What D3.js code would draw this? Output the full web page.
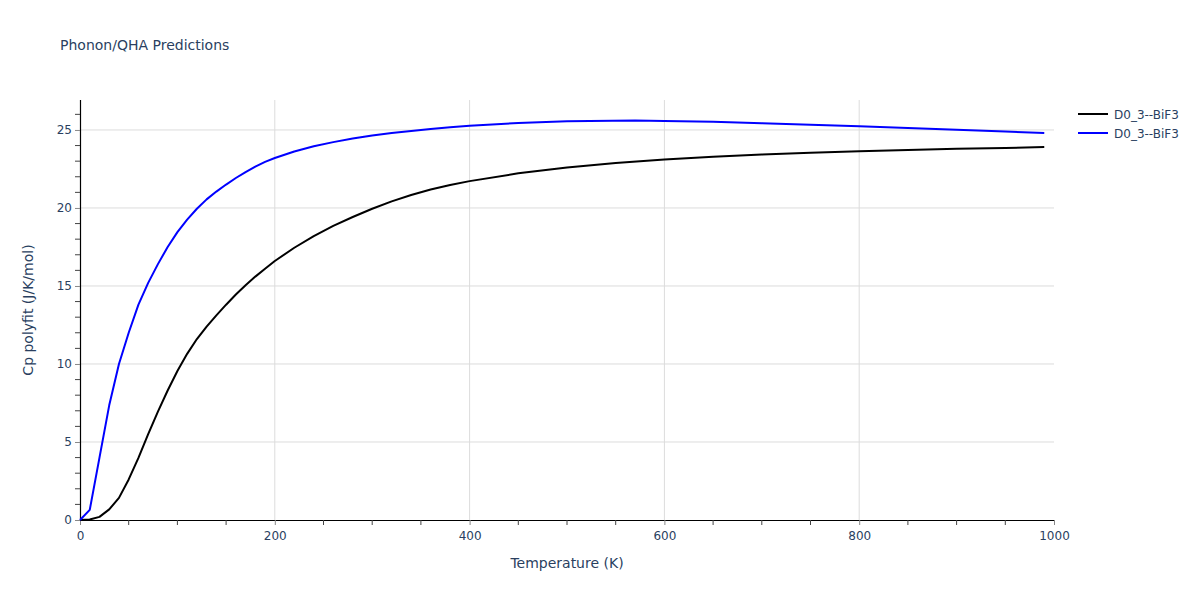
<!DOCTYPE html>
<html><head><meta charset="utf-8">
<script src="https://cdn.jsdelivr.net/npm/d3@7"></script>
<style>body{margin:0;background:#fff;} text{font-family:"DejaVu Sans",Verdana,sans-serif;}</style>
</head><body><svg id="c" width="1200" height="600"></svg>
<script>
const title = "Phonon/QHA Predictions";
const xTitle = "Temperature (K)";
const yTitle = "Cp polyfit (J/K/mol)";
const seriesNames = ["D0_3--BiF3", "D0_3--BiF3"];
const seriesColors = ["#000000", "#0000ff"];
const temps = [0,10,20,30,40,50,60,70,80,90,100,110,120,130,140,150,160,170,180,190,200,220,240,260,280,300,320,340,360,380,400,450,500,550,600,650,700,750,800,850,900,950,990];
const cpBlack = [0,0.03,0.2,0.68,1.42,2.6,3.98,5.5,6.95,8.3,9.55,10.65,11.6,12.4,13.12,13.8,14.45,15.05,15.6,16.1,16.6,17.45,18.2,18.85,19.42,19.95,20.42,20.83,21.18,21.47,21.72,22.22,22.6,22.88,23.1,23.28,23.42,23.54,23.64,23.72,23.79,23.85,23.9];
const tempsBlue = [0,10,20,30,40,50,60,70,80,90,100,110,120,130,140,150,160,170,180,190,200,220,240,260,280,300,320,340,360,380,400,450,500,570,600,650,700,750,800,850,900,950,990];
const cpBlue = [0,0.65,4.0,7.35,10.0,12.0,13.8,15.2,16.4,17.5,18.45,19.25,19.95,20.55,21.05,21.5,21.92,22.3,22.65,22.95,23.2,23.62,23.95,24.22,24.45,24.64,24.8,24.94,25.06,25.17,25.27,25.45,25.55,25.6,25.58,25.52,25.43,25.33,25.23,25.12,25.02,24.9,24.8];
const xTicks = [0,200,400,600,800,1000];
const yTicks = [0,5,10,15,20,25];

const svg = d3.select("#c");
const L=80,R=1054,T=100,B=520;
const x = d3.scaleLinear().domain([0,1000]).range([L,R]);
const y = d3.scaleLinear().domain([0,26.92]).range([B,T]);
const txt = "#2a3f5f";

// grid
svg.append("g").selectAll("line").data(xTicks.filter(d=>d>0 && d<1000)).join("line")
  .attr("x1",d=>x(d)).attr("x2",d=>x(d)).attr("y1",T).attr("y2",B).attr("stroke","#dcdcdc").attr("stroke-width",1);
svg.append("g").selectAll("line").data(yTicks.filter(d=>d>0)).join("line")
  .attr("x1",L).attr("x2",R).attr("y1",d=>y(d)).attr("y2",d=>y(d)).attr("stroke","#dcdcdc").attr("stroke-width",1);

// axes
const xAxis = d3.axisBottom(x).tickValues(xTicks).tickSize(5).tickPadding(6).tickFormat(d3.format("d"));
const gx = svg.append("g").attr("transform",`translate(0,${B})`).call(xAxis);
gx.append("g").selectAll("line").data(d3.range(50,1001,50).filter(d=>d%200!==0)).join("line")
  .attr("x1",d=>x(d)).attr("x2",d=>x(d)).attr("y1",0).attr("y2",5).attr("stroke","#444");
const yAxis = d3.axisLeft(y).tickValues(yTicks).tickSize(5).tickPadding(3);
const gy = svg.append("g").attr("transform",`translate(${L},0)`).call(yAxis);
gy.append("g").selectAll("line").data(d3.range(1,27).filter(d=>d%5!==0)).join("line")
  .attr("x1",-5).attr("x2",0).attr("y1",d=>y(d)).attr("y2",d=>y(d)).attr("stroke","#444");
[gx,gy].forEach(g=>{
  g.select(".domain").attr("stroke","#000").attr("stroke-width",1.2);
  g.selectAll(".tick line").attr("stroke","#888");
  g.selectAll(".tick text").attr("fill",txt).attr("font-size",12).attr("font-family","DejaVu Sans, Verdana, sans-serif");
});
gx.select(".domain").attr("d",`M${L},0.5H${R}`);
gy.select(".domain").attr("d",`M0.5,${B}V${T}`);

// lines
const line = (xs)=>d3.line().x((d,i)=>x(xs[i])).y(d=>y(d));
svg.append("path").datum(cpBlack).attr("d",line(temps)).attr("fill","none").attr("stroke",seriesColors[0]).attr("stroke-width",2).attr("stroke-linejoin","round");
svg.append("path").datum(cpBlue).attr("d",line(tempsBlue)).attr("fill","none").attr("stroke",seriesColors[1]).attr("stroke-width",2).attr("stroke-linejoin","round");

// titles
svg.append("text").attr("x",60).attr("y",50).attr("fill",txt).attr("font-size",14).text(title);
svg.append("text").attr("x",(L+R)/2).attr("y",568).attr("text-anchor","middle").attr("fill",txt).attr("font-size",14).text(xTitle);
svg.append("text").attr("transform",`translate(33,${(T+B)/2}) rotate(-90)`).attr("text-anchor","middle").attr("fill",txt).attr("font-size",14).text(yTitle);

// legend
const lg = svg.append("g").attr("transform","translate(1078,114)");
seriesNames.forEach((n,i)=>{
  const g = lg.append("g").attr("transform",`translate(0,${i*19})`);
  g.append("line").attr("x1",0).attr("x2",30).attr("y1",0).attr("y2",0).attr("stroke",seriesColors[i]).attr("stroke-width",2);
  g.append("text").attr("x",36).attr("y",4.5).attr("fill",txt).attr("font-size",12).text(n);
});
</script></body></html>
